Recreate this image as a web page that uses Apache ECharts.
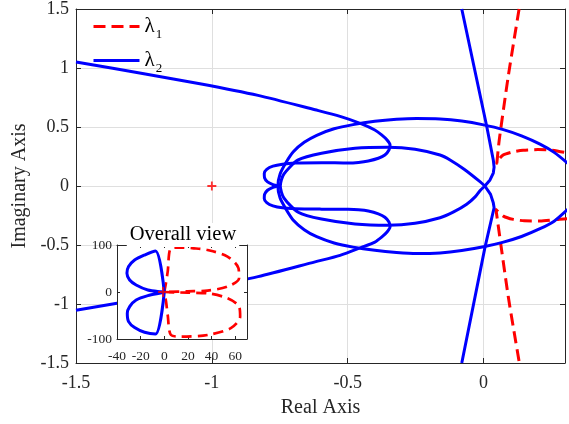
<!DOCTYPE html>
<html>
<head>
<meta charset="utf-8">
<script src="https://cdn.jsdelivr.net/npm/echarts@6/dist/echarts.min.js"></script>
<style>
  html, body { margin: 0; padding: 0; background: #fff; }
  #chart { width: 569px; height: 424px; }
</style>
</head>
<body>
<div id="chart"></div>
<script>
// Axis ranges and tick steps
const realRange = [-1.5, 0.3];
const imagRange = [-1.5, 1.5];
const mainStep = 0.5;
const insetRealRange = [-40, 70];
const insetImagRange = [-100, 100];
const insetRealStep = 20;
const insetImagStep = 100;

// Critical point (-1, 0)
const criticalPoint = [[-1, 0]];

// λ1 locus, close-up (real, imag)
const lam1Upper = [[0.131, 1.5], [0.091, 0.929], [0.058, 0.391], [0.049, 0.193],
  [0.060, 0.235], [0.073, 0.263], [0.110, 0.290], [0.146, 0.303], [0.200, 0.309],
  [0.245, 0.306], [0.310, 0.280]];
const lam1Lower = [[0.310, -0.278], [0.275, -0.283], [0.208, -0.297], [0.150, -0.295],
  [0.110, -0.283], [0.073, -0.255], [0.046, -0.200], [0.091, -0.935], [0.132, -1.5]];

// λ2 locus, close-up: outer branch with the two side loops
const lam2Branch = [[-1.5, 1.051], [-1.25, 0.951], [-1.044, 0.867], [-0.83, 0.768],
  [-0.62, 0.646], [-0.528, 0.590], [-0.449, 0.527], [-0.400, 0.475], [-0.375, 0.433],
  [-0.355, 0.390], [-0.344, 0.348], [-0.348, 0.305], [-0.363, 0.263], [-0.387, 0.235],
  [-0.424, 0.212], [-0.460, 0.200], [-0.498, 0.195], [-0.596, 0.198], [-0.694, 0.195],
  [-0.740, 0.185], [-0.775, 0.168], [-0.798, 0.140], [-0.807, 0.105], [-0.806, 0.070],
  [-0.795, 0.035], [-0.775, 0.012], [-0.758, 0.0],
  [-0.775, -0.012], [-0.795, -0.036], [-0.806, -0.072], [-0.807, -0.105],
  [-0.798, -0.140], [-0.775, -0.168], [-0.740, -0.185], [-0.694, -0.192],
  [-0.596, -0.196], [-0.498, -0.198], [-0.460, -0.202], [-0.424, -0.212],
  [-0.387, -0.236], [-0.363, -0.265], [-0.348, -0.305], [-0.344, -0.346],
  [-0.355, -0.390], [-0.375, -0.433], [-0.400, -0.475], [-0.449, -0.520],
  [-0.528, -0.588], [-0.62, -0.643], [-0.83, -0.768], [-1.044, -0.867],
  [-1.25, -0.953], [-1.5, -1.053]];

// λ2 locus, close-up: large ellipse
const lam2Outer = [[0.310, 0.193], [0.260, 0.285], [0.208, 0.355], [0.140, 0.425],
  [0.070, 0.480], [0.000, 0.518], [-0.080, 0.550], [-0.160, 0.568], [-0.246, 0.572],
  [-0.320, 0.565], [-0.400, 0.548], [-0.480, 0.520], [-0.550, 0.485], [-0.614, 0.430],
  [-0.660, 0.370], [-0.700, 0.290], [-0.728, 0.195], [-0.749, 0.100], [-0.757, 0.0],
  [-0.749, -0.100], [-0.728, -0.192], [-0.700, -0.290], [-0.660, -0.370],
  [-0.614, -0.430], [-0.550, -0.483], [-0.480, -0.518], [-0.400, -0.545],
  [-0.320, -0.563], [-0.246, -0.572], [-0.160, -0.567], [-0.080, -0.547],
  [0.000, -0.515], [0.070, -0.478], [0.140, -0.428], [0.208, -0.362],
  [0.260, -0.298], [0.310, -0.198]];

// λ2 locus, close-up: small ellipse
const lam2Inner = [[0.005, 0.0], [-0.013, 0.037], [-0.070, 0.140], [-0.123, 0.221],
  [-0.160, 0.263], [-0.252, 0.312], [-0.351, 0.329], [-0.473, 0.320], [-0.596, 0.278],
  [-0.682, 0.221], [-0.735, 0.100], [-0.748, 0.0], [-0.735, -0.100], [-0.682, -0.222],
  [-0.596, -0.280], [-0.473, -0.322], [-0.351, -0.333], [-0.252, -0.316],
  [-0.160, -0.269], [-0.110, -0.220], [-0.062, -0.155], [-0.030, -0.090],
  [-0.013, -0.040], [0.005, 0.0]];

// λ2 locus, close-up: steep branch through the origin
const lam2Stem = [[-0.080, 1.5], [0.012, 0.504], [0.036, 0.221], [0.039, 0.160],
  [0.036, 0.110], [0.024, 0.051], [0.005, 0.0], [0.026, -0.071], [0.036, -0.142],
  [0.039, -0.184], [0.005, -0.524], [-0.080, -1.5]];

// Overall view: λ1 loops
const insetLam1Upper = [[0, 0], [1.5, 20], [2.9, 43.4], [5.7, 93], [14.2, 94.5],
  [25, 93], [36.6, 89.4], [53.5, 75.3], [62.8, 50.4], [63.3, 29], [53.5, 11.5],
  [36.6, 3], [19.8, 1.5], [0, 0]];
const insetLam1Lower = [[0, 0], [19.8, -1.5], [36.6, -2.8], [53.5, -13.4], [63.3, -31],
  [64.2, -52.4], [56.3, -77], [36.6, -91.5], [14.2, -95], [5.7, -91.5], [2.9, -49],
  [1.5, -20], [0, 0]];

// Overall view: λ2 lobes
const insetLam2 = [[0, 0], [-7.4, 87.2], [-16.7, 78.7], [-25.1, 68], [-30.2, 54],
  [-31.6, 39.8], [-29.3, 25.5], [-23.8, 15], [-13.9, 4.3], [-2.7, 0.3], [0, 0],
  [-13.9, -7.7], [-23.8, -17], [-29.3, -31], [-31.3, -45.3], [-30.2, -63],
  [-25.1, -75.7], [-16.7, -85.7], [-7.4, -89.3], [0, 0]];

const FONT = '"Liberation Serif", "Times New Roman", serif';
const AXIS_COLOR = '#262626';
const RED = '#ff0000';
const BLUE = '#0000ff';

const chart = echarts.init(document.getElementById('chart'), null, { renderer: 'canvas' });

function valueAxis(o) {
  return Object.assign({
    type: 'value',
    axisLine: { show: true, onZero: false, lineStyle: { color: AXIS_COLOR, width: 1 } },
    axisTick: { show: true, inside: true, length: 5, lineStyle: { color: AXIS_COLOR } },
    splitLine: { show: false },
    axisLabel: { show: false }
  }, o);
}

function curve(name, data, color, dashed, width, idx, smooth, zlevel) {
  return {
    name: name, type: 'line', data: data,
    xAxisIndex: idx, yAxisIndex: idx,
    showSymbol: false, symbol: 'none', smooth: smooth,
    clip: true, animation: false, silent: true, zlevel: zlevel || 0,
    lineStyle: { color: color, width: width, type: dashed ? dashed : 'solid', cap: 'butt', join: 'round' },
    itemStyle: { color: color }
  };
}

const insetTick = { show: true, inside: true, length: 3, lineStyle: { color: AXIS_COLOR } };
const mainLabel = { show: true, fontFamily: FONT, fontSize: 18, color: AXIS_COLOR };
const insetLabel = { show: true, fontFamily: FONT, fontSize: 13.5, color: AXIS_COLOR };
const gridLine = { show: true, lineStyle: { color: '#dfdfdf', width: 1 } };

const legendRich = {
  l: { fontFamily: FONT, fontSize: 21, color: '#000' },
  s: { fontFamily: FONT, fontSize: 13, color: '#000', padding: [16, 0, 0, 1] }
};
function legendFor(name, top) {
  return {
    data: [name], left: 92, top: top, orient: 'vertical',
    itemWidth: 46, itemHeight: 14, itemGap: 5, padding: 0,
    selectedMode: false,
    lineStyle: { width: 3 },
    // the line sample only, no marker in the middle
    itemStyle: { color: 'rgba(0,0,0,0)', borderColor: 'rgba(0,0,0,0)', borderWidth: 0, opacity: 0 },
    formatter: n => '{l|λ}{s|' + n.slice(1) + '}',
    textStyle: { rich: legendRich }
  };
}

const option = {
  animation: false,
  backgroundColor: '#fff',
  grid: [
    { left: 76, top: 9, width: 489, height: 354, containLabel: false },
    { left: 117, top: 245, width: 130, height: 94, show: true, backgroundColor: '#fff',
      borderWidth: 0, zlevel: 1 }
  ],
  legend: [legendFor('λ1', 16), legendFor('λ2', 50)],
  xAxis: [
    valueAxis({ gridIndex: 0, position: 'bottom', min: realRange[0], max: realRange[1],
      interval: mainStep, splitLine: gridLine,
      axisLabel: Object.assign({ margin: 11, showMaxLabel: false }, mainLabel),
      name: 'Real Axis', nameLocation: 'middle', nameGap: 35,
      nameTextStyle: { fontFamily: FONT, fontSize: 20, color: AXIS_COLOR } }),
    valueAxis({ gridIndex: 0, position: 'top', min: realRange[0], max: realRange[1],
      interval: mainStep }),
    valueAxis({ gridIndex: 1, position: 'bottom', min: insetRealRange[0], max: insetRealRange[1],
      interval: insetRealStep, zlevel: 1, axisTick: insetTick,
      axisLabel: Object.assign({ margin: 10, showMaxLabel: false }, insetLabel) }),
    valueAxis({ gridIndex: 1, position: 'top', min: insetRealRange[0], max: insetRealRange[1],
      interval: insetRealStep, zlevel: 1, axisTick: insetTick })
  ],
  yAxis: [
    valueAxis({ gridIndex: 0, position: 'left', min: imagRange[0], max: imagRange[1],
      interval: mainStep, splitLine: gridLine,
      axisLabel: Object.assign({ margin: 7 }, mainLabel),
      name: 'Imaginary Axis', nameLocation: 'middle', nameGap: 32,
      nameTextStyle: { fontFamily: FONT, fontSize: 20, color: AXIS_COLOR } }),
    valueAxis({ gridIndex: 0, position: 'right', min: imagRange[0], max: imagRange[1],
      interval: mainStep }),
    valueAxis({ gridIndex: 1, position: 'left', min: insetImagRange[0], max: insetImagRange[1],
      interval: insetImagStep, zlevel: 1, axisTick: insetTick,
      axisLabel: Object.assign({ margin: 5 }, insetLabel) }),
    valueAxis({ gridIndex: 1, position: 'right', min: insetImagRange[0], max: insetImagRange[1],
      interval: insetImagStep, zlevel: 1, axisTick: insetTick })
  ],
  graphic: [{
    type: 'text', zlevel: 1, z: 10, x: 183, y: 235,
    style: { text: 'Overall view', font: '20.5px ' + FONT, fill: '#000',
      align: 'center', verticalAlign: 'middle', backgroundColor: '#fff', padding: [2, 3, 1, 3] }
  }],
  series: [
    curve('λ1', lam1Upper, RED, [12, 6], 3, 0, 0.2),
    curve('λ1', lam1Lower, RED, [12, 6], 3, 0, 0.2),
    curve('λ2', lam2Branch, BLUE, null, 3, 0, 0.25),
    curve('λ2', lam2Outer, BLUE, null, 3, 0, 0.25),
    curve('λ2', lam2Inner, BLUE, null, 3, 0, 0.25),
    curve('λ2', lam2Stem, BLUE, null, 3, 0, false),
    {
      name: 'critical', type: 'scatter', data: criticalPoint, xAxisIndex: 0, yAxisIndex: 0,
      symbol: 'path://M4 0h2v4h4v2h-4v4h-2v-4h-4v-2h4z', symbolSize: 9,
      itemStyle: { color: RED }, silent: true, z: 5, animation: false
    },
    curve('λ1', insetLam1Upper, RED, [10, 6], 2.7, 2, 0.3, 1),
    curve('λ1', insetLam1Lower, RED, [10, 6], 2.7, 2, 0.3, 1),
    curve('λ2', insetLam2, BLUE, null, 3, 2, 0.3, 1),
    {
      name: 'critical', type: 'scatter', data: criticalPoint, xAxisIndex: 2, yAxisIndex: 2,
      symbol: 'path://M4 0h2v4h4v2h-4v4h-2v-4h-4v-2h4z', symbolSize: 10,
      itemStyle: { color: RED }, silent: true, z: 5, zlevel: 1, animation: false
    }
  ]
};

chart.setOption(option);
</script>
</body>
</html>
